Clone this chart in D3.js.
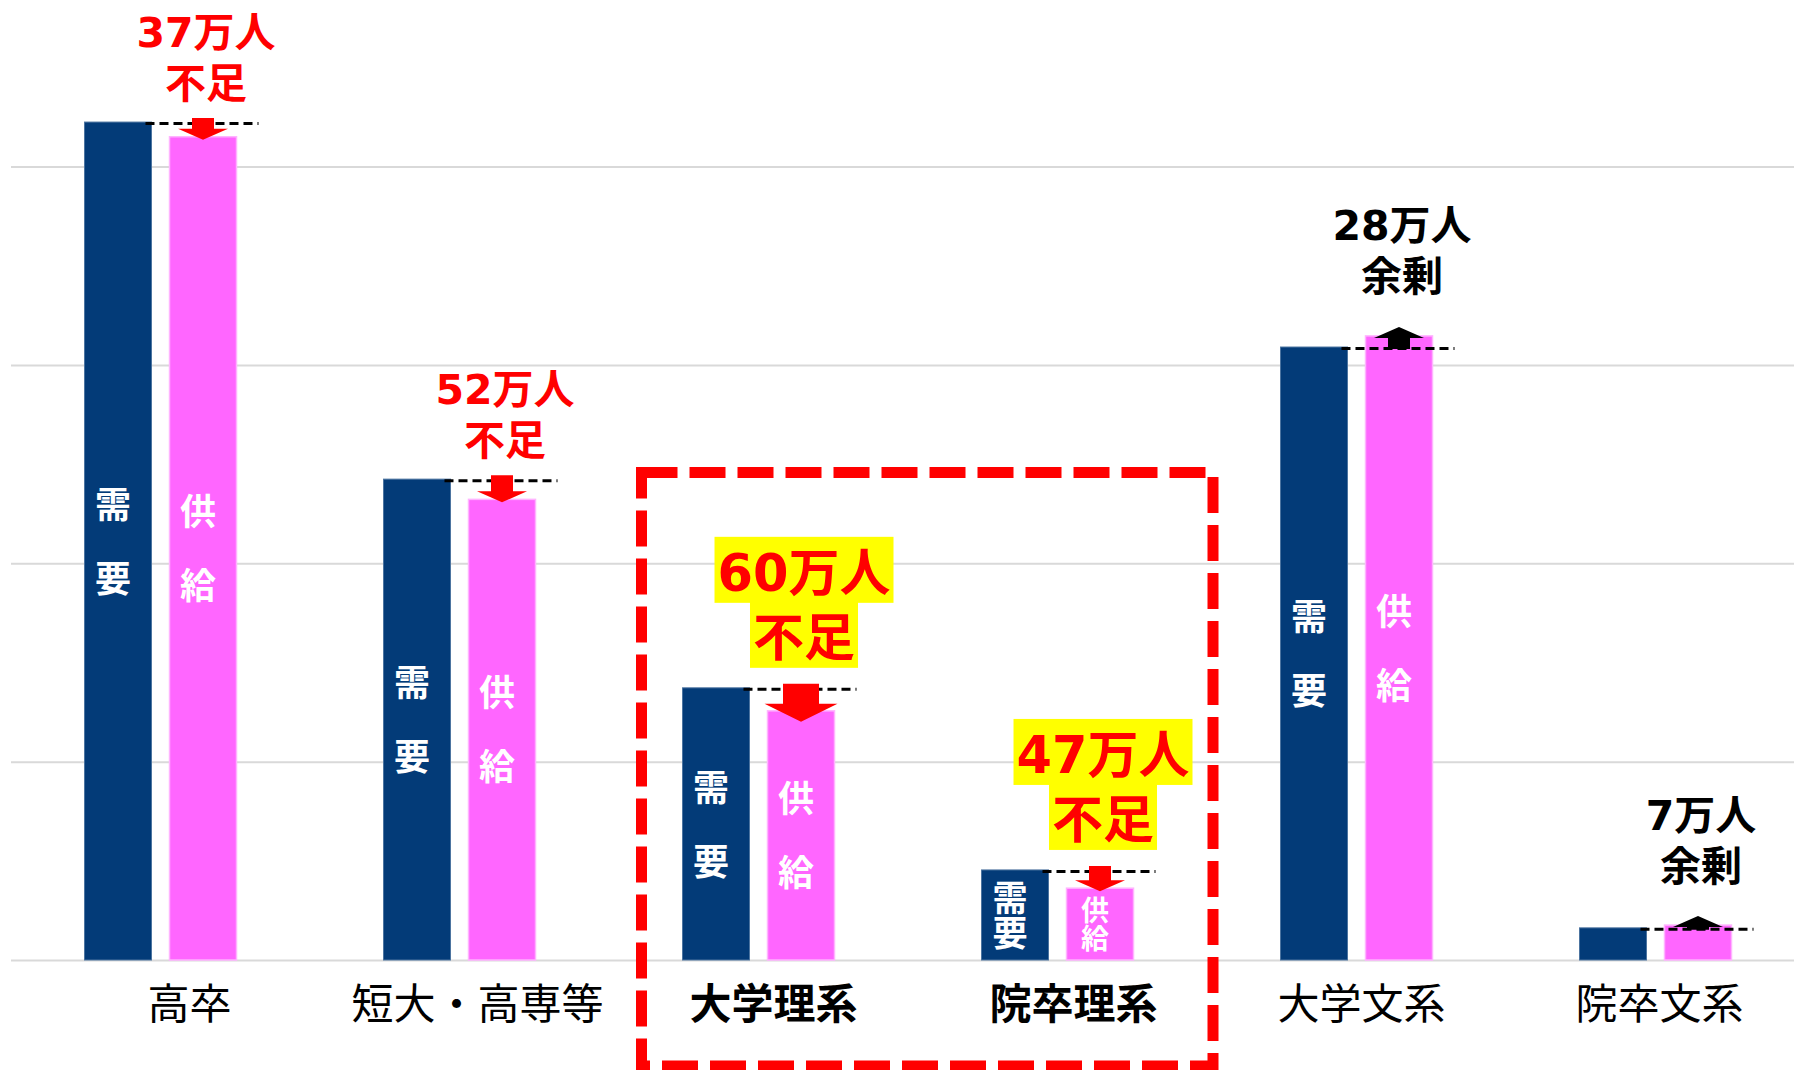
<!DOCTYPE html>
<html lang="ja">
<head>
<meta charset="utf-8">
<style>
  body { margin: 0; background: #fff; }
  svg text { font-family: "Noto Sans CJK JP", "Noto Sans", sans-serif; }
  svg text.note { font-family: "DejaVu Sans", "Noto Sans CJK JP", sans-serif; }
</style>
</head>
<body>
<script src="https://d3js.org/d3.v7.min.js"></script>
<script>
// values in 万人
const categories = ['高卒', '短大・高専等', '大学理系', '院卒理系', '大学文系', '院卒文系'];
const demand = [2112, 1212, 686, 227, 1545, 81];
const supply = [2075, 1161, 628, 181, 1573, 88];
const gapNumbers = ['37万人', '52万人', '60万人', '47万人', '28万人', '7万人'];
const gapWords = ['不足', '不足', '不足', '不足', '余剰', '余剰'];
const highlighted = ['大学理系', '院卒理系'];
const yTicks = [0, 500, 1000, 1500, 2000];
const series = ['需要', '供給'];

const width = 1794, height = 1070;
const blue = '#033b78', pink = '#ff66ff', red = '#ff0000';
// category labels sit a little right of the bar pairs
const labelShift = [29, 18, 15, 16, 5, 4];

const svg = d3.select('body').append('svg')
    .attr('width', width)
    .attr('height', height);

const x = d3.scaleBand().domain(categories).range([11, 1805]);
const xs = d3.scaleBand().domain(series).range([73.5, 225.5]).paddingInner(0.212);
const y = d3.scaleLinear().domain([0, 2000]).range([960, 166.5]);

// gridlines
svg.append('g')
    .attr('transform', 'translate(11,0)')
    .call(d3.axisLeft(y).tickValues(yTicks).tickSize(-(width - 11)).tickFormat(''))
    .call(g => g.select('.domain').remove())
    .call(g => g.selectAll('line').attr('stroke', '#d9d9d9').attr('stroke-width', 2));

const rows = categories.map((c, i) => ({
    cat: c, demand: demand[i], supply: supply[i],
    num: gapNumbers[i], word: gapWords[i],
    short: demand[i] > supply[i],
    hi: highlighted.includes(c)
}));

const g = svg.selectAll('g.cat')
    .data(rows)
    .join('g')
    .attr('class', 'cat')
    .attr('transform', d => 'translate(' + x(d.cat) + ',0)');

g.append('rect')
    .attr('x', xs('需要'))
    .attr('y', d => y(d.demand))
    .attr('width', xs.bandwidth())
    .attr('height', d => y(0) - y(d.demand))
    .attr('fill', blue)
    .attr('stroke', '#4c74a0')
    .attr('stroke-width', 1);

g.append('rect')
    .attr('x', xs('供給'))
    .attr('y', d => y(d.supply))
    .attr('width', xs.bandwidth())
    .attr('height', d => y(0) - y(d.supply))
    .attr('fill', pink)
    .attr('stroke', '#ffb3ff')
    .attr('stroke-width', 1.5);

// 需/要 and 供/給 written down the bars
g.each(function (d) {
    const sel = d3.select(this);
    [['需要', d.demand], ['供給', d.supply]].forEach(([name, v]) => {
        const h = y(0) - y(v);
        if (h < 60) return;
        const fs = Math.min(36, h * 0.39);
        const step = h > 200 ? 74 : fs;
        const mid = (y(v) + y(0)) / 2;
        name.split('').forEach((ch, k) => {
            const cy = mid + (k - 0.5) * step;
            sel.append('text')
                .attr('x', xs(name) + xs.bandwidth() / 2 - 5)
                .attr('y', cy + fs * 0.38)
                .attr('text-anchor', 'middle')
                .attr('font-size', fs)
                .attr('font-weight', 700)
                .attr('fill', '#fff')
                .text(ch);
        });
    });
});

// dashed demand level
g.append('line')
    .attr('x1', xs('需要') + xs.bandwidth() - 6)
    .attr('x2', xs('供給') + xs.bandwidth() + 22)
    .attr('y1', d => y(d.demand) + 1.5)
    .attr('y2', d => y(d.demand) + 1.5)
    .attr('stroke', '#000')
    .attr('stroke-width', 3)
    .attr('stroke-dasharray', '9,5');

// arrows from demand level to supply level
const cxP = xs('供給') + xs.bandwidth() / 2;
function arrowPath(d) {
    const big = d.cat === '大学理系';
    const sw = big ? 36 : 22, hw = big ? 73 : 50, hh = big ? 18 : 11;
    if (d.short) {
        const top = y(d.demand) - 4, tip = y(d.supply) + (big ? 11 : 3), base = tip - hh;
        return 'M' + (cxP - sw / 2) + ',' + top + 'H' + (cxP + sw / 2) + 'V' + base +
            'H' + (cxP + hw / 2) + 'L' + cxP + ',' + tip + 'L' + (cxP - hw / 2) + ',' + base +
            'H' + (cxP - sw / 2) + 'Z';
    }
    const bottom = y(d.demand) + 2, tip = y(d.supply) - 9, base = tip + hh;
    return 'M' + (cxP - sw / 2) + ',' + bottom + 'H' + (cxP + sw / 2) + 'V' + base +
        'H' + (cxP + hw / 2) + 'L' + cxP + ',' + tip + 'L' + (cxP - hw / 2) + ',' + base +
        'H' + (cxP - sw / 2) + 'Z';
}
g.append('path')
    .attr('d', arrowPath)
    .attr('fill', d => d.short ? red : '#000');

// gap annotations
g.each(function (d) {
    const sel = d3.select(this);
    const fs = d.hi ? 51 : 41;
    const step = d.hi ? 65 : 51;
    const c2 = d.short ? y(d.demand) - (d.hi ? 51 : 40) : y(d.supply) - 60;
    const cx = cxP + 3;
    [d.num, d.word].forEach((t, k) => {
        const cy = c2 - (1 - k) * step;
        const bg = sel.append('rect');
        const txt = sel.append('text')
            .attr('class', 'note')
            .attr('x', cx)
            .attr('y', cy + fs * 0.38)
            .attr('text-anchor', 'middle')
            .attr('font-size', fs)
            .attr('font-weight', 700)
            .attr('fill', d.short ? red : '#000')
            .text(t);
        if (d.hi) {
            const w = txt.node().getBBox().width + 6;
            bg.attr('x', cx - w / 2).attr('y', cy - 35)
                .attr('width', w).attr('height', 66)
                .attr('fill', '#ffff00');
        } else {
            bg.remove();
        }
    });
});

// category labels
svg.append('g')
    .attr('transform', 'translate(0,960)')
    .call(d3.axisBottom(x).tickSize(0))
    .call(a => a.select('.domain').remove())
    .call(a => a.selectAll('text')
        .attr('y', 43.5 + 42 * 0.38)
        .attr('dy', null)
        .attr('dx', (d, i) => labelShift[i])
        .attr('font-size', 42)
        .attr('font-weight', d => highlighted.includes(d) ? 700 : 400)
        .attr('fill', '#000'));

// red dashed frame round the science groups
svg.append('rect')
    .attr('x', 641.5)
    .attr('y', 472.5)
    .attr('width', 571.5)
    .attr('height', 593.5)
    .attr('fill', 'none')
    .attr('stroke', red)
    .attr('stroke-width', 11)
    .attr('stroke-dasharray', '36,12');
</script>
</body>
</html>
